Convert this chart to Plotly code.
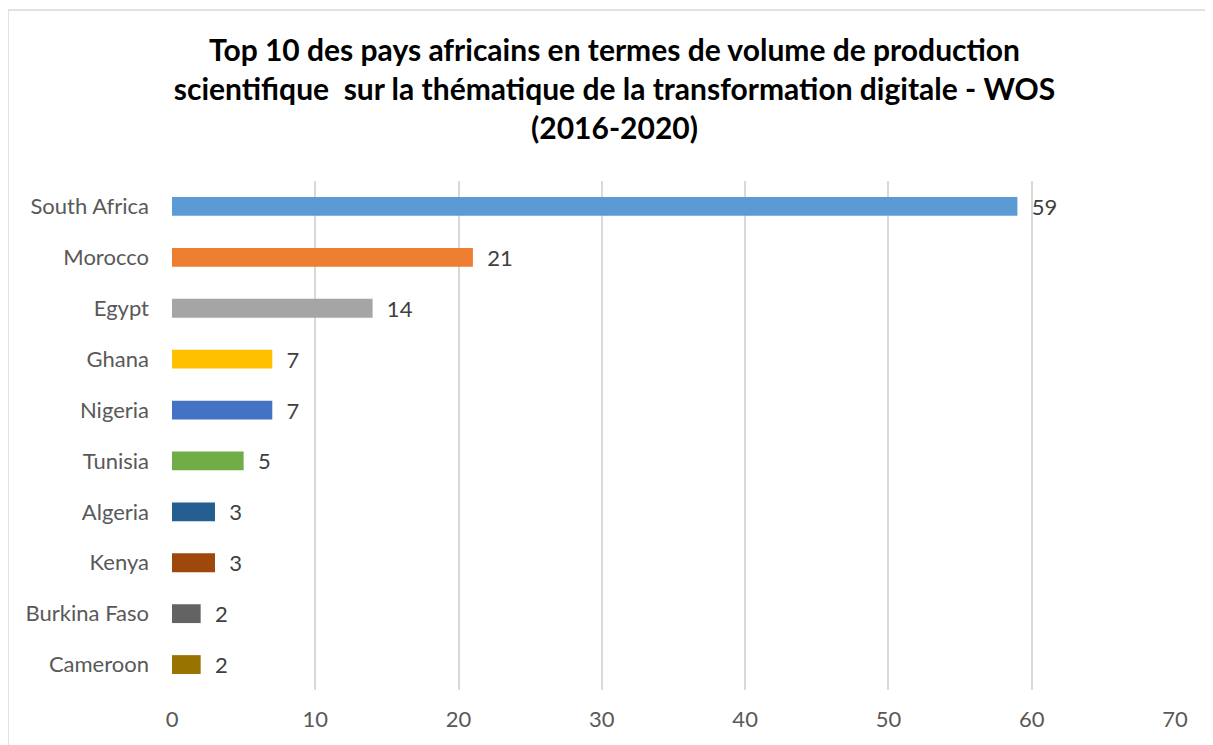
import plotly.graph_objects as go

pays = ["South Africa", "Morocco", "Egypt", "Ghana", "Nigeria",
        "Tunisia", "Algeria", "Kenya", "Burkina Faso", "Cameroon"]
publications = [59, 21, 14, 7, 7, 5, 3, 3, 2, 2]
couleurs = ["#5B9BD5", "#ED7D31", "#A5A5A5", "#FFC000", "#4472C4",
            "#70AD47", "#255E91", "#9E480E", "#636363", "#997300"]
ticks_x = [0, 10, 20, 30, 40, 50, 60, 70]

FONT = "Lato, Calibri, 'Open Sans', sans-serif"

fig = go.Figure()

fig.add_trace(go.Bar(
    x=publications, y=pays,
    orientation="h",
    marker=dict(color=couleurs, line=dict(width=0)),
    width=0.37,
    texttemplate="  %{x}",
    textposition="outside",
    constraintext="none",
    textfont=dict(size=22, color="#404040", family=FONT),
    cliponaxis=False,
    showlegend=False,
))

fig.update_layout(
    title=dict(
        text="Top 10 des pays africains en termes de volume de production<br>"
             "scientifique  sur la thématique de la transformation digitale - WOS<br>"
             "(2016-2020)",
        x=0.5, xanchor="center",
        y=1 - 53 / 745, yanchor="top", yref="container",
        font=dict(size=30, color="#000000", family=FONT, weight="bold"),
    ),
    width=1213, height=745,
    margin=dict(l=164, r=46, t=173, b=63, autoexpand=False),
    paper_bgcolor="white",
    plot_bgcolor="white",
    bargap=0.63,
    font=dict(family=FONT, color="#595959", size=22),
)

fig.update_xaxes(
    range=[0, 70],
    tickvals=ticks_x,
    showgrid=True, gridcolor="#D9D9D9", gridwidth=1.5,
    zeroline=False,
    showline=False,
    ticks="",
    ticklabelstandoff=14,
    tickfont=dict(size=22, color="#595959"),
)
fig.update_yaxes(
    categoryorder="array",
    categoryarray=pays[::-1],
    showgrid=False,
    zeroline=False,
    showline=False,
    ticks="",
    ticklabelstandoff=22,
    tickfont=dict(size=22, color="#595959"),
)

# cadre du graphique
fig.add_shape(
    type="rect", xref="paper", yref="paper",
    x0=-164 / 1003, x1=1 + 36 / 1003, y0=-58 / 509, y1=1 + 171 / 509,
    line=dict(color="#D9D9D9", width=1.5),
    fillcolor="rgba(0,0,0,0)",
)

fig.write_html("out.html")
